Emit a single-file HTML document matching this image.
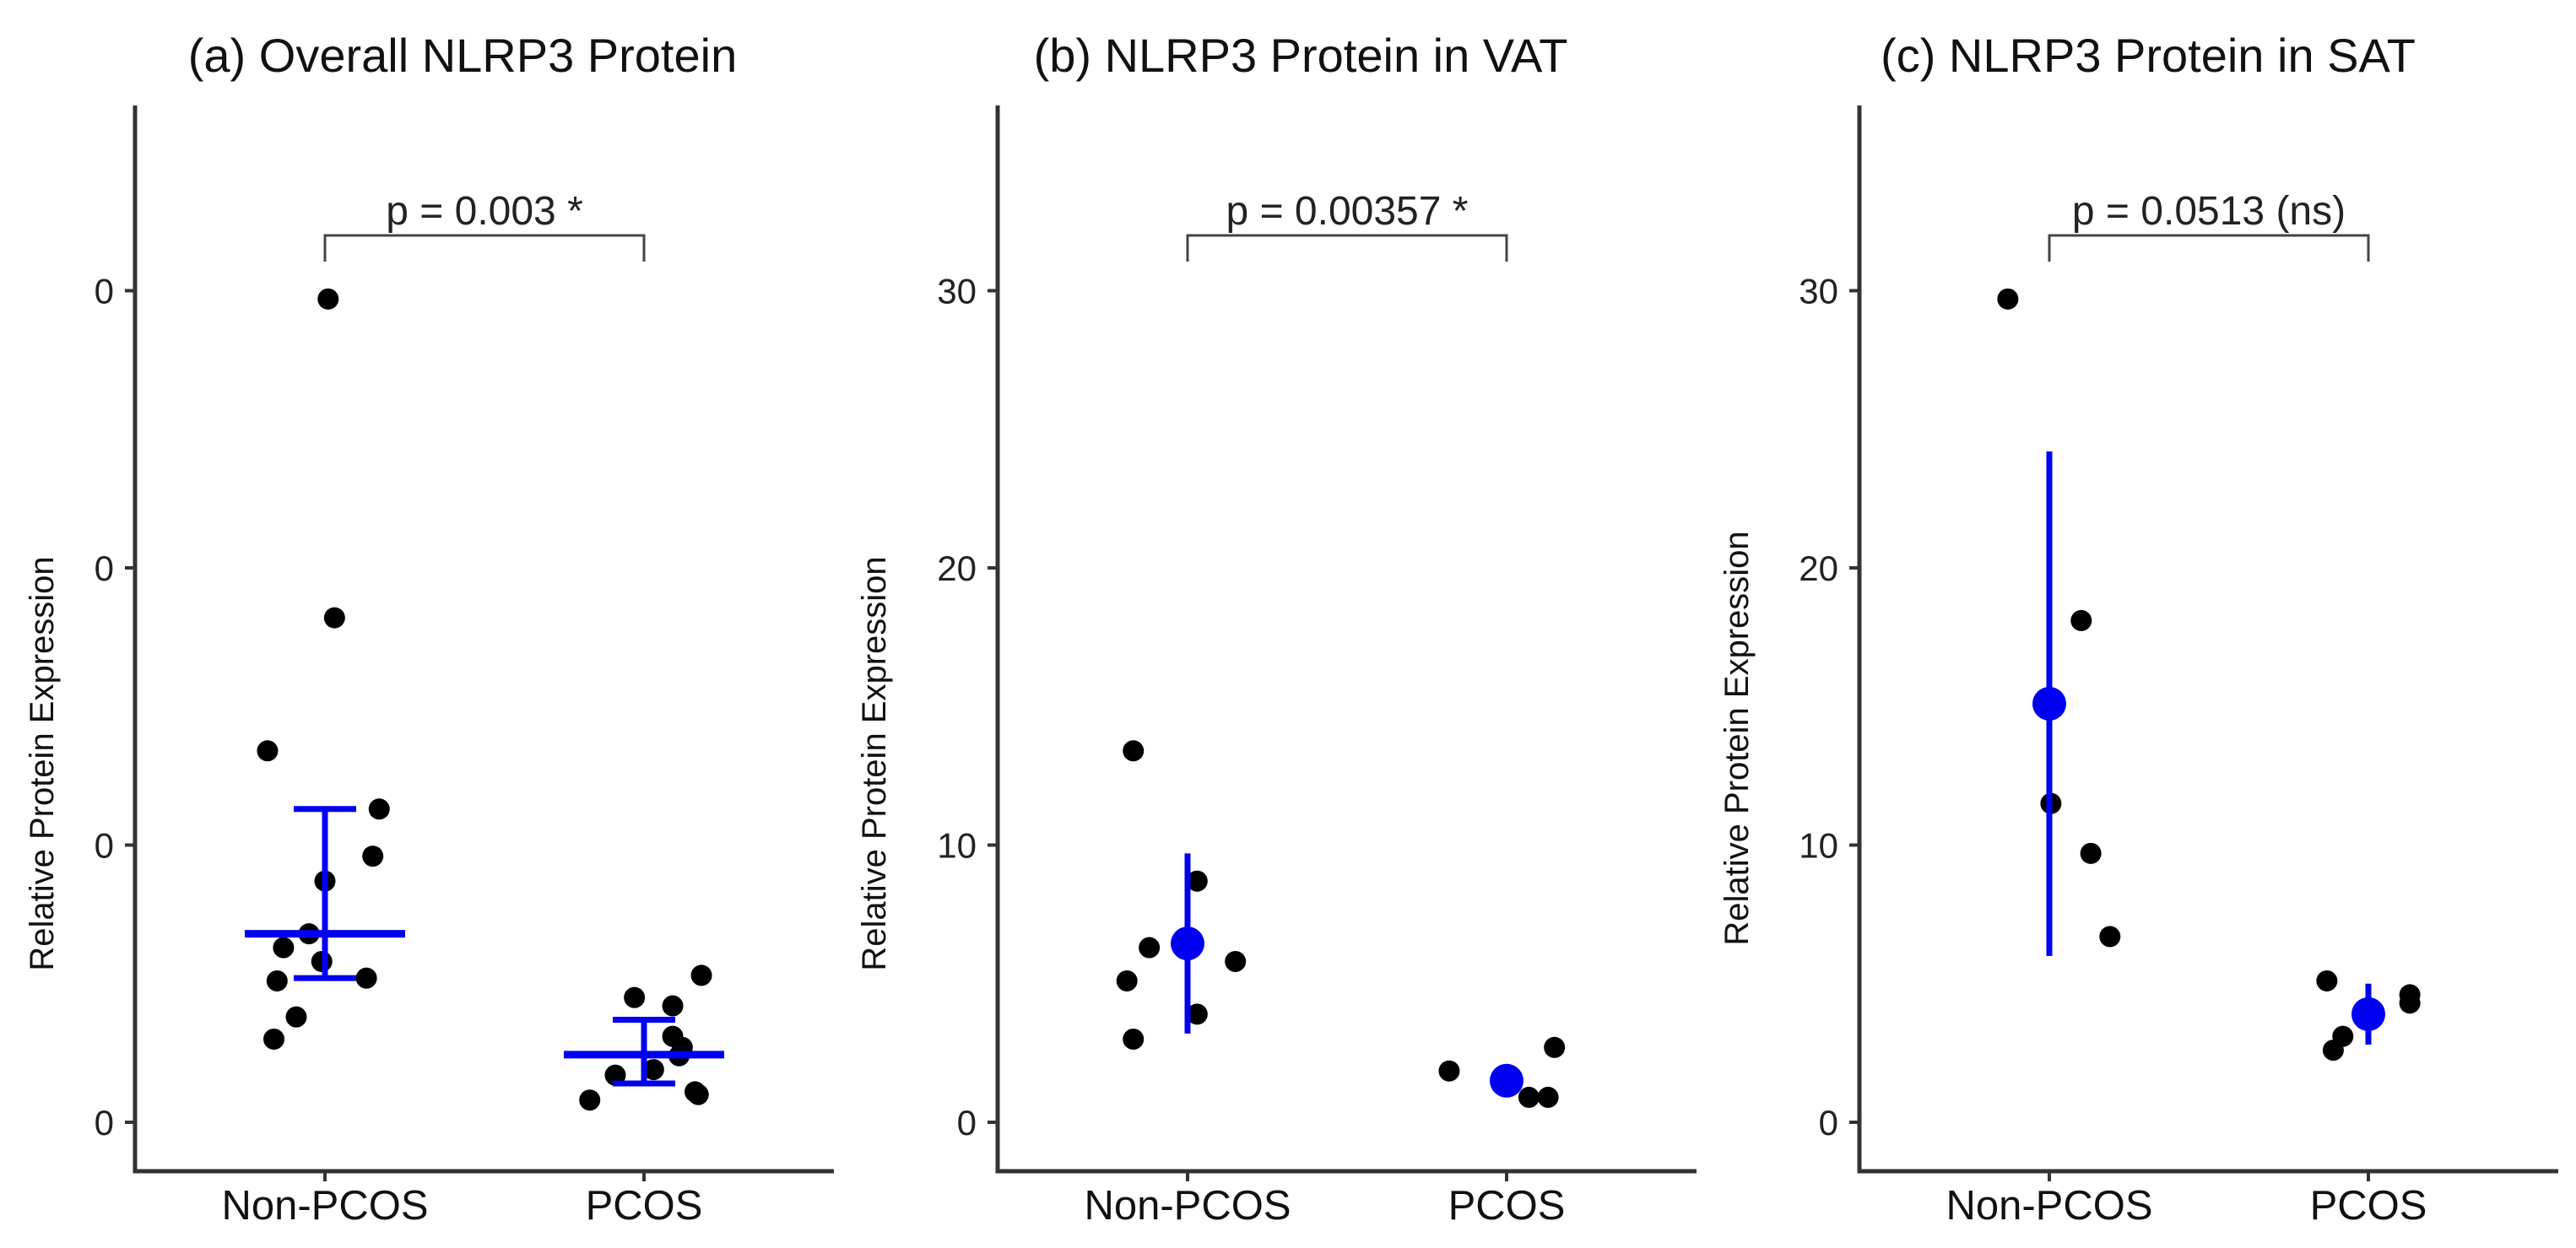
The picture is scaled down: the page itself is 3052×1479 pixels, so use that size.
<!DOCTYPE html>
<html><head><meta charset="utf-8"><style>
html,body{margin:0;padding:0;background:#fff;}
svg{display:block;font-family:"Liberation Sans",Arial,sans-serif;}
</style></head><body>
<svg id="chart" width="3052" height="1479" viewBox="0 0 3052 1479" xmlns="http://www.w3.org/2000/svg"></svg>
<script>
// ---- data ----
const categories = ["Non-PCOS", "PCOS"];
const panelTitles = ["(a) Overall NLRP3 Protein", "(b) NLRP3 Protein in VAT", "(c) NLRP3 Protein in SAT"];
const pLabels = ["p = 0.003 *", "p = 0.00357 *", "p = 0.0513 (ns)"];
const yTicks = [0, 10, 20, 30];
const tickLabelsA = ["0", "0", "0", "0"];
const tickLabelsBC = ["0", "10", "20", "30"];
// panel a points: [categoryIndex, jitter (category units), value]
const ptsA = [[0,0.01,29.7],[0,0.03,18.2],[0,-0.18,13.4],[0,0.17,11.3],[0,0.15,9.6],[0,0,8.7],
  [0,-0.05,6.8],[0,-0.13,6.3],[0,-0.01,5.8],[0,-0.15,5.1],[0,0.13,5.2],[0,-0.09,3.8],[0,-0.16,3.0],
  [1,-0.03,4.5],[1,0.09,4.2],[1,0.18,5.3],[1,0.09,3.1],[1,0.12,2.7],[1,0.11,2.4],[1,0.03,1.9],
  [1,-0.09,1.7],[1,0.16,1.1],[1,0.17,1.0],[1,-0.17,0.8]];
const meanA = [6.8, 2.44];
const lowA = [5.2, 1.4];
const highA = [11.3, 3.7];
const ptsB = [[0,-0.17,13.4],[0,0.03,8.7],[0,-0.12,6.3],[0,-0.19,5.1],[0,0.15,5.8],[0,0.03,3.9],[0,-0.17,3.0],
  [1,-0.18,1.85],[1,0.07,0.9],[1,0.13,0.9],[1,0.15,2.7]];
const meanB = [6.45, 1.5];
const lowB = [3.2, 1.0];
const highB = [9.7, 2.1];
const ptsC = [[0,-0.13,29.7],[0,0.10,18.1],[0,0.005,11.5],[0,0.13,9.7],[0,0.19,6.7],
  [1,-0.13,5.1],[1,-0.08,3.1],[1,-0.11,2.6],[1,0.13,4.6],[1,0.13,4.3]];
const meanC = [15.1, 3.9];
const lowC = [6.0, 2.8];
const highC = [24.2, 5.0];

// ---- layout ----
const svg = document.getElementById('chart');
const NS = 'http://www.w3.org/2000/svg';
const axisX0 = [160, 1182, 2203];
const titleX = [548, 1541, 2545];
const yTitleX = [50, 1036, 2058];
const yTitleY = [905, 905, 875];
const y0 = 1330, pxPerUnit = 32.85, axisTop = 125, axisBottom = 1388;
const catStep = 378, catOffset = 225, axisLen = 828;
const BLUE = '#0000f0';
function yScale(v){ return y0 - v * pxPerUnit; }
function xScale(p, c){ return axisX0[p] + catOffset + c * catStep; }
function mk(tag, attrs, parent){
  const e = document.createElementNS(NS, tag);
  for (const k in attrs) e.setAttribute(k, attrs[k]);
  (parent || svg).appendChild(e);
  return e;
}

const panels = [
  {pts: ptsA, mean: meanA, low: lowA, high: highA, style: 'crossbar', labels: tickLabelsA},
  {pts: ptsB, mean: meanB, low: lowB, high: highB, style: 'pointrange', labels: tickLabelsBC},
  {pts: ptsC, mean: meanC, low: lowC, high: highC, style: 'pointrange', labels: tickLabelsBC}
];

panels.forEach((P, p) => {
  const g = mk('g', {});
  
  
  const ax = axisX0[p];

  const t = mk('text', {x: titleX[p], y: 85, 'font-size': 56, fill: '#111', 'text-anchor': 'middle'}, g);
  t.textContent = panelTitles[p];
  
  

  const yt = mk('text', {x: 0, y: 0, 'font-size': 40, fill: '#111', 'text-anchor': 'middle', 'dominant-baseline': 'central',
    transform: 'translate(' + yTitleX[p] + ',' + yTitleY[p] + ') rotate(-90)'}, g);
  yt.textContent = 'Relative Protein Expression';
  
  

  const yAxis = mk('line', {x1: ax, y1: axisTop, x2: ax, y2: axisBottom + 2.5, stroke: '#333', 'stroke-width': 5}, g);
  
  
  const xAxis = mk('line', {x1: ax - 2.5, y1: axisBottom, x2: ax + axisLen, y2: axisBottom, stroke: '#333', 'stroke-width': 5}, g);
  
  

  yTicks.forEach((v, i) => {
    const y = yScale(v);
    const tk = mk('line', {x1: ax - 12, y1: y, x2: ax, y2: y, stroke: '#333', 'stroke-width': 4}, g);
    
    
    const tl = mk('text', {x: ax - 25, y: y + 15, 'font-size': 42, fill: '#222', 'text-anchor': 'end'}, g);
    tl.textContent = P.labels[i];
    
    
  });

  categories.forEach((c, ci) => {
    const x = xScale(p, ci);
    const tk = mk('line', {x1: x, y1: axisBottom, x2: x, y2: axisBottom + 12, stroke: '#333', 'stroke-width': 4}, g);
    
    
    const tl = mk('text', {x: x, y: 1445, 'font-size': 49, fill: '#111', 'text-anchor': 'middle'}, g);
    tl.textContent = c;
    
    
  });

  // significance bracket
  const bx1 = xScale(p, 0), bx2 = xScale(p, 1);
  const br = mk('path', {d: 'M' + bx1 + ',310 L' + bx1 + ',279 L' + bx2 + ',279 L' + bx2 + ',310', fill: 'none', stroke: '#444', 'stroke-width': 3}, g);
  
  
  const pt = mk('text', {x: (bx1 + bx2) / 2, y: 266, 'font-size': 48, fill: '#222', 'text-anchor': 'middle'}, g);
  pt.textContent = pLabels[p];
  
  

  // points
  P.pts.forEach(d => {
    const c = mk('circle', {cx: xScale(p, d[0] + d[1]), cy: yScale(d[2]), r: 12.5, fill: '#000'}, g);
    
    
  });

  // summaries
  categories.forEach((c, ci) => {
    const x = xScale(p, ci);
    if (P.style === 'crossbar') {
      const v = mk('line', {x1: x, y1: yScale(P.low[ci]), x2: x, y2: yScale(P.high[ci]), stroke: BLUE, 'stroke-width': 7}, g);
      
      
      [P.low[ci], P.high[ci]].forEach(val => {
        const cap = mk('line', {x1: x - 37, y1: yScale(val), x2: x + 37, y2: yScale(val), stroke: BLUE, 'stroke-width': 7}, g);
        
        
      });
      const m = mk('line', {x1: x - 95, y1: yScale(P.mean[ci]), x2: x + 95, y2: yScale(P.mean[ci]), stroke: BLUE, 'stroke-width': 9}, g);
      
      
    } else {
      const v = mk('line', {x1: x, y1: yScale(P.low[ci]), x2: x, y2: yScale(P.high[ci]), stroke: BLUE, 'stroke-width': 7}, g);
      
      
      const m = mk('circle', {cx: x, cy: yScale(P.mean[ci]), r: 20, fill: BLUE}, g);
      
      
    }
  });
});
</script>
</body></html>
